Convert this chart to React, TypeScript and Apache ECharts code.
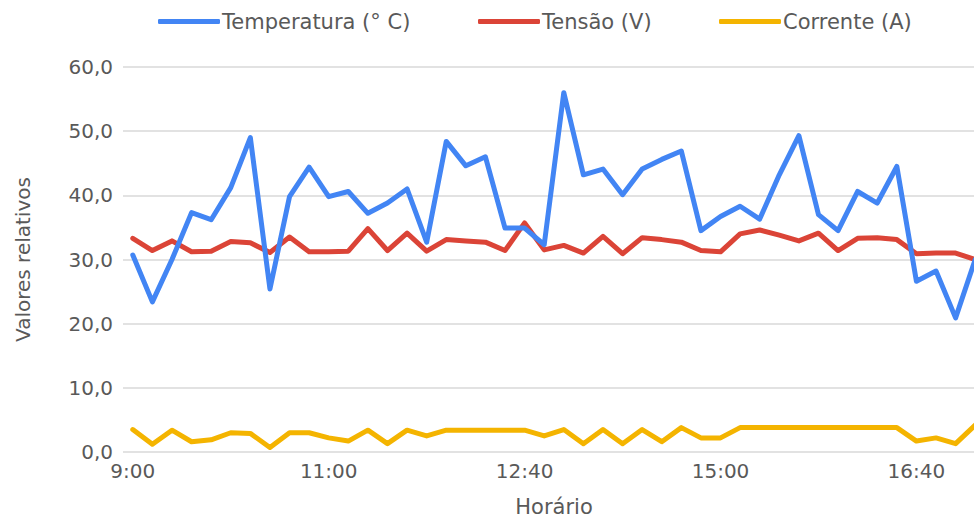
import React, { useEffect, useRef } from "react";
import * as echarts from "echarts";

const categories = [
  "9:00", "9:12", "9:24", "9:36", "9:48", "10:00", "10:12", "10:24", "10:36", "10:48",
  "11:00", "11:10", "11:20", "11:30", "11:40", "11:50", "12:00", "12:10", "12:20", "12:30",
  "12:40", "12:54", "13:08", "13:22", "13:36", "13:50", "14:04", "14:18", "14:32", "14:46",
  "15:00", "15:10", "15:20", "15:30", "15:40", "15:50", "16:00", "16:10", "16:20", "16:30",
  "16:40", "16:50", "17:00", "17:10",
];

const temperatura = [
  30.7, 23.4, 30.0, 37.3, 36.2, 41.2, 49.0, 25.4, 39.8, 44.4,
  39.8, 40.6, 37.2, 38.8, 41.0, 32.7, 48.4, 44.6, 46.0, 34.9,
  34.9, 32.3, 56.0, 43.2, 44.1, 40.1, 44.1, 45.6, 46.9, 34.5,
  36.7, 38.3, 36.3, 43.2, 49.3, 37.0, 34.5, 40.6, 38.8, 44.5,
  26.6, 28.2, 20.9, 30.0,
];

const tensao = [
  33.3, 31.4, 32.9, 31.2, 31.3, 32.8, 32.6, 31.1, 33.5, 31.2,
  31.2, 31.3, 34.8, 31.4, 34.1, 31.3, 33.1, 32.9, 32.7, 31.4,
  35.7, 31.5, 32.2, 31.0, 33.6, 30.9, 33.4, 33.1, 32.7, 31.4,
  31.2, 34.0, 34.6, 33.8, 32.9, 34.1, 31.4, 33.3, 33.4, 33.1,
  30.9, 31.0, 31.0, 30.0,
];

const corrente = [
  3.5, 1.2, 3.4, 1.6, 1.9, 3.0, 2.9, 0.7, 3.0, 3.0,
  2.2, 1.7, 3.4, 1.3, 3.4, 2.5, 3.4, 3.4, 3.4, 3.4,
  3.4, 2.5, 3.5, 1.3, 3.5, 1.3, 3.5, 1.6, 3.8, 2.2,
  2.2, 3.8, 3.8, 3.8, 3.8, 3.8, 3.8, 3.8, 3.8, 3.8,
  1.7, 2.2, 1.3, 4.2,
];

const yTicks = [0, 10, 20, 30, 40, 50, 60];

const seriesNames = ["Temperatura (° C)", "Tensão (V)", "Corrente (A)"];
const colors = ["#4285F4", "#DB4437", "#F4B400"];
const legendLefts = [153, 473, 714];

export default function App() {
  const ref = useRef<HTMLDivElement>(null);
  useEffect(() => {
    if (!ref.current) return;
    const chart = echarts.init(ref.current, undefined, { renderer: "svg" });
    const font = "'DejaVu Sans', 'Liberation Sans', Arial, sans-serif";
    const textColor = "#595959";
    const dataSets = [temperatura, tensao, corrente];
    chart.setOption({
      animation: false,
      color: colors,
      textStyle: { fontFamily: font },
      legend: seriesNames.map((name, i) => ({
        top: 6,
        left: legendLefts[i],
        icon: "roundRect",
        itemWidth: 62,
        itemHeight: 5,
        itemGap: 0,
        textStyle: { color: textColor, fontSize: 21, fontFamily: font, padding: [0, 0, 0, -3] },
        data: [name],
      })),
      grid: { left: 123, right: 0, top: 67, bottom: 70, containLabel: false },
      xAxis: {
        type: "category",
        data: categories,
        boundaryGap: true,
        name: "Horário",
        nameLocation: "middle",
        nameGap: 44,
        nameTextStyle: { color: textColor, fontSize: 21, fontFamily: font },
        axisLine: { show: false },
        axisTick: { show: false },
        axisLabel: {
          interval: 9,
          color: textColor,
          fontSize: 20,
          fontFamily: font,
          margin: 9,
        },
        splitLine: { show: false },
      },
      yAxis: {
        type: "value",
        min: yTicks[0],
        max: yTicks[yTicks.length - 1],
        interval: 10,
        name: "Valores relativos",
        nameLocation: "middle",
        nameGap: 90,
        nameTextStyle: { color: textColor, fontSize: 20, fontFamily: font },
        axisLine: { show: false },
        axisTick: { show: false },
        axisLabel: {
          color: textColor,
          fontSize: 20,
          fontFamily: font,
          margin: 10,
          formatter: (v: number) => v.toFixed(1).replace(".", ","),
        },
        splitLine: { lineStyle: { color: "#D9D9D9", width: 1.5 } },
      },
      series: seriesNames.map((name, i) => ({
        name,
        type: "line",
        data: dataSets[i],
        showSymbol: false,
        symbol: "none",
        lineStyle: { width: 5, color: colors[i], join: "round", cap: "round" },
        itemStyle: { color: colors[i] },
        z: 3 - i,
      })),
    });
    return () => chart.dispose();
  }, []);
  return (
    <div style={{ position: "absolute", left: 0, top: 0, width: 974, height: 522, overflow: "hidden" }}>
      <div ref={ref} style={{ width: 985, height: 522 }} />
    </div>
  );
}
